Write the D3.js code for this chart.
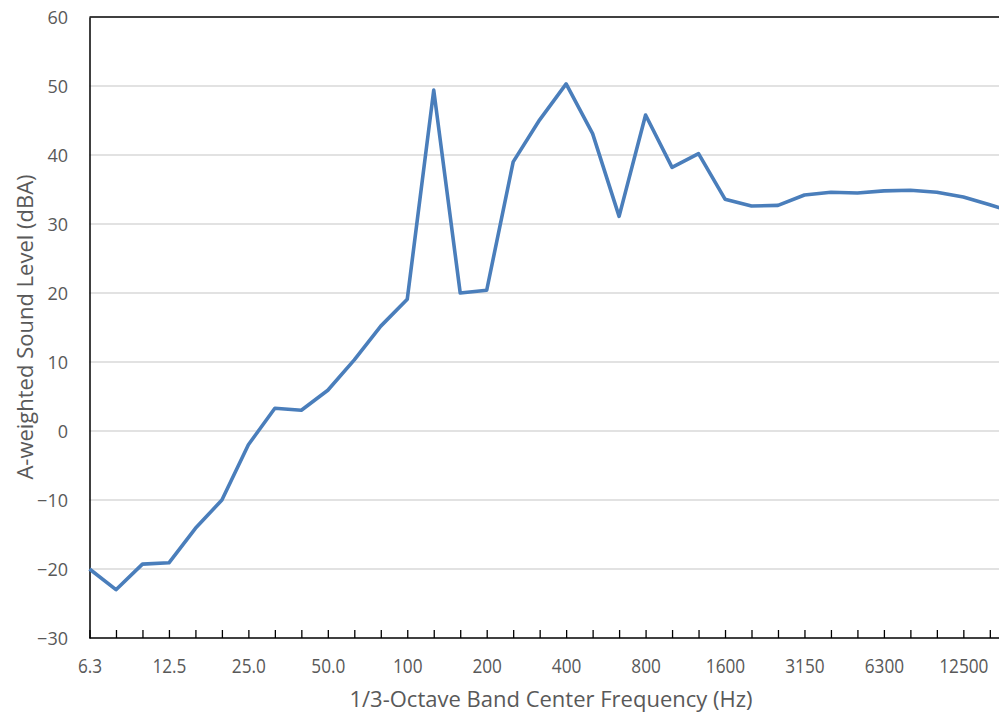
<!DOCTYPE html>
<html><head><meta charset="utf-8">
<script src="https://cdn.jsdelivr.net/npm/d3@7"></script>
<style>
html,body{margin:0;padding:0;background:#fff;overflow:hidden}
svg{display:block}
</style></head>
<body>
<svg id="chart" width="999" height="714"></svg>
<script>
const categories = ["6.3","8","10","12.5","16","20","25.0","31.5","40","50.0","63","80","100","125","160","200","250","315","400","500","630","800","1000","1250","1600","2000","2500","3150","4000","5000","6300","8000","10000","12500","16000","20000"];
const levels = [-20.0,-23.0,-19.3,-19.1,-14.1,-10.0,-2.0,3.3,3.0,5.9,10.3,15.2,19.1,49.4,20.0,20.4,39.0,45.1,50.3,43.1,31.1,45.8,38.2,40.2,33.6,32.6,32.7,34.2,34.6,34.5,34.8,34.9,34.6,33.9,32.8,31.6];
const labelledCategories = ["6.3","12.5","25.0","50.0","100","200","400","800","1600","3150","6300","12500"];
const yTicks = [-30,-20,-10,0,10,20,30,40,50,60];

const svg = d3.select("#chart");
const mLeft = 89.5, mTop = 17, mBottom = 638, step = 26.48;
const x = d3.scalePoint().domain(categories).range([mLeft, mLeft + step*(categories.length-1)]);
const y = d3.scaleLinear().domain([-30,60]).range([mBottom, mTop]);
const txt = "#595959";
const font = "'Open Sans',sans-serif";

// gridlines
svg.append("g").selectAll("line").data(yTicks.filter(v=>v>-30 && v<60)).join("line")
  .attr("x1", mLeft).attr("x2", 999).attr("y1", d=>y(d)).attr("y2", d=>y(d))
  .attr("stroke", "#d9d9d9").attr("stroke-width", 1.3);

// top border
svg.append("line").attr("x1", mLeft).attr("x2", 999).attr("y1", y(60)).attr("y2", y(60))
  .attr("stroke", "#000").attr("stroke-width", 1.3);

// x axis
const xAxis = d3.axisBottom(x).tickSizeInner(-8).tickSizeOuter(0)
  .tickFormat(d => labelledCategories.includes(d) ? d : "");
const gx = svg.append("g").attr("transform", `translate(0,${mBottom})`).call(xAxis);
gx.select(".domain").attr("stroke", "#000").attr("stroke-width", 1.5).attr("d", `M${mLeft},0H1020`);
gx.selectAll(".tick line").attr("stroke", "#000").attr("stroke-width", 1.3);
gx.selectAll(".tick text").attr("fill", txt).attr("dy", 0).attr("y", 35)
  .attr("transform", "scale(0.84,1)")
  .style("font-family", font).style("font-size", "20.5px");

// y axis
const yAxis = d3.axisLeft(y).tickValues(yTicks).tickSize(0).tickPadding(21.5);
const gy = svg.append("g").attr("transform", `translate(${mLeft},0)`).call(yAxis);
gy.select(".domain").attr("stroke", "#000").attr("stroke-width", 1.5);
gy.selectAll(".tick text").attr("fill", txt).attr("dy", "0.37em")
  .style("font-family", font).style("font-size", "18px");

// line
svg.append("path").datum(levels)
  .attr("fill", "none").attr("stroke", "#4a7ebb").attr("stroke-width", 3.6)
  .attr("stroke-linejoin", "round")
  .attr("d", d3.line().x((d,i)=>x(categories[i])).y(d=>y(d)));

// titles
svg.append("text").attr("x", 551).attr("y", 707).attr("text-anchor", "middle")
  .attr("fill", txt).style("font-family", font).style("font-size", "22px")
  .text("1/3-Octave Band Center Frequency (Hz)");
svg.append("text").attr("transform", "translate(33,327) rotate(-90)").attr("text-anchor", "middle")
  .attr("fill", txt).style("font-family", font).style("font-size", "22px")
  .text("A-weighted Sound Level (dBA)");
</script>
</body></html>
